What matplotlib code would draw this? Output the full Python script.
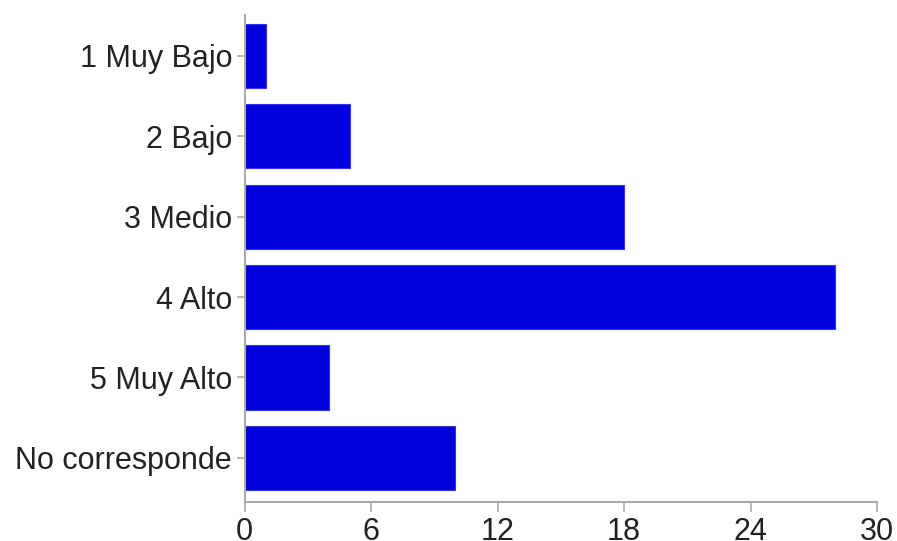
import matplotlib.pyplot as plt
import numpy as np

# categories and counts (top to bottom)
categories = ["1 Muy Bajo", "2 Bajo", "3 Medio", "4 Alto", "5 Muy Alto", "No corresponde"]
counts = [1, 5, 18, 28, 4, 10]
x_ticks = [0, 6, 12, 18, 24, 30]

plt.rcParams["font.family"] = ["Liberation Sans", "DejaVu Sans"]

fig = plt.figure(figsize=(8.97, 5.41), dpi=100)
ax = fig.add_axes([244.5 / 897, 1 - 502 / 541, (877 - 244.5) / 897, (502 - 15) / 541])

y = np.arange(len(categories))
ax.barh(y, counts, height=0.8, color="#0000dd", edgecolor="#3333ee", linewidth=0.8)

ax.set_xlim(0, 30)
ax.set_ylim(5.55, -0.51)
ax.set_xticks(x_ticks)
ax.set_yticks(y)
ax.set_yticklabels(categories)

for side in ["top", "right"]:
    ax.spines[side].set_visible(False)
for side in ["left", "bottom"]:
    ax.spines[side].set_color("#aaaaaa")
    ax.spines[side].set_linewidth(1.5)

ax.tick_params(axis="both", colors="#aaaaaa", labelcolor="#222222", labelsize=22, width=1.2)
ax.tick_params(axis="x", length=7, pad=4)
ax.tick_params(axis="y", length=6, pad=3)

fig.savefig("out.png", dpi=100)
